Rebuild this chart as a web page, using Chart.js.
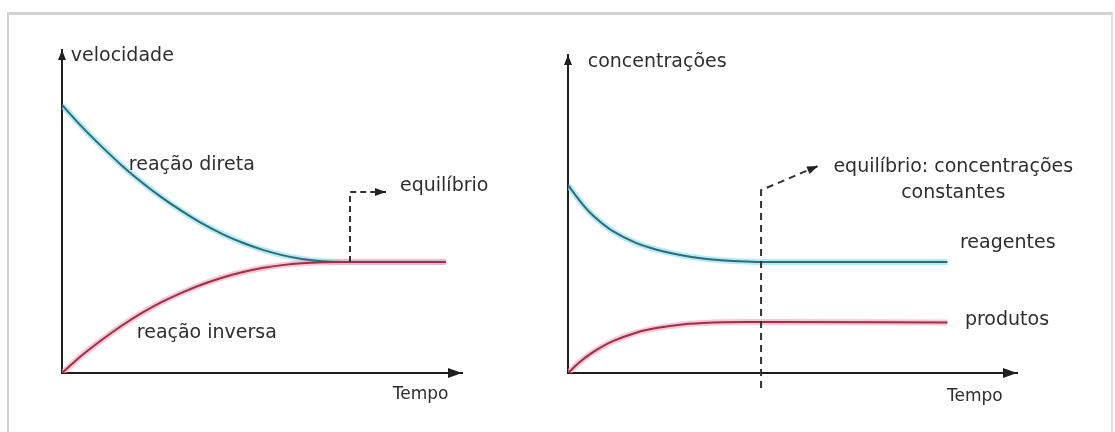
<!DOCTYPE html>
<html><head><meta charset="utf-8">
<script src="https://cdn.jsdelivr.net/npm/chart.js@4.4.1/dist/chart.umd.min.js"></script>
<style>
html,body{margin:0;padding:0;background:#fff;width:1115px;height:432px;overflow:hidden;}
#frame{position:absolute;left:7px;top:12px;width:1102px;height:440px;border-top:3px solid #d2d2d2;border-left:2px solid #d2d2d2;border-right:2px solid #e2e2e2;}
#c1{position:absolute;left:0;top:0;}
#c2{position:absolute;left:540px;top:0;}
</style></head><body>
<div id="frame"></div>
<canvas id="c1" width="560" height="432"></canvas>
<canvas id="c2" width="575" height="432"></canvas>
<script>
// ---- Left panel: velocidade x Tempo ----
const leftTime     = [0, 0.5, 1, 1.5, 2, 2.5, 3, 3.5, 4, 4.5, 5, 5.5, 6, 6.5, 7, 7.2, 9.6];
const leftDireta   = [83.0, 76.2, 70.0, 64.2, 59.0, 54.3, 50.1, 46.3, 43.1, 40.4, 38.2, 36.5, 35.3, 34.6, 34.4, 34.4, 34.4];
const leftInversa  = [0, 5.5, 10.3, 14.7, 18.6, 22.0, 24.9, 27.4, 29.5, 31.2, 32.5, 33.4, 34.0, 34.3, 34.4, 34.4, 34.4];
const leftEqX      = [7.2, 7.2, 8.1];
const leftEqY      = [34.4, 56.0, 56.0];

// ---- Right panel: concentrações x Tempo ----
const rightTime       = [0, 0.25, 0.5, 0.75, 1, 1.5, 2, 2.5, 3, 3.5, 4, 4.3, 8.45];
const rightReagentes  = [59.1, 54.4, 50.3, 47.2, 44.6, 41.0, 38.7, 37.1, 36.0, 35.4, 35.05, 34.9, 34.9];
const rightProdutos   = [0, 3.3, 6.0, 8.2, 10.0, 12.6, 14.2, 15.2, 15.7, 15.95, 16.0, 16.0, 15.9];
const rightEqX        = [4.3, 4.3, 5.57];
const rightEqY        = [-4.7, 57.5, 65.1];

// ---- Text labels ----
const leftLabels = [
  {text: 'velocidade', x: 0.22, y: 98.1},
  {text: 'reação direta', x: 1.67, y: 64.4},
  {text: 'equilíbrio', x: 8.45, y: 57.8},
  {text: 'reação inversa', x: 1.87, y: 12.4},
  {text: 'Tempo', x: 8.27, y: -6.8, size: 17}
];
const rightLabels = [
  {text: 'concentrações', x: 0.44, y: 97.8},
  {text: 'equilíbrio: concentrações', x: 8.58, y: 64.8, align: 'center'},
  {text: 'constantes', x: 8.58, y: 56.6, align: 'center'},
  {text: 'reagentes', x: 8.73, y: 40.9},
  {text: 'produtos', x: 8.84, y: 16.7},
  {text: 'Tempo', x: 8.44, y: -7.5, size: 17}
];

const pts = (xs, ys) => xs.map((x, i) => ({x: x, y: ys[i]}));

function tri(ctx, x, y, ux, uy, len, w) {
  const bx = x - ux * len, by = y - uy * len;
  const px = -uy, py = ux;
  ctx.beginPath();
  ctx.moveTo(x, y);
  ctx.lineTo(bx + px * w / 2, by + py * w / 2);
  ctx.lineTo(bx - px * w / 2, by - py * w / 2);
  ctx.closePath();
  ctx.fill();
}

const decorPlugin = {
  id: 'decor',
  afterDatasetsDraw(chart, args, opts) {
    const ctx = chart.ctx;
    const xs = chart.scales.x, ys = chart.scales.y;
    ctx.save();
    ctx.fillStyle = '#1f1f1f';
    const x0 = xs.getPixelForValue(xs.min);
    const yTop = ys.getPixelForValue(ys.max);
    tri(ctx, x0, yTop, 0, -1, 10, 8);
    const xEnd = xs.getPixelForValue(xs.max);
    const y0 = ys.getPixelForValue(0);
    tri(ctx, xEnd, y0, 1, 0, 14, 10);
    chart.data.datasets.forEach((ds, i) => {
      if (!ds.arrowEnd) return;
      const el = chart.getDatasetMeta(i).data;
      const a = el[el.length - 2], b = el[el.length - 1];
      const dx = b.x - a.x, dy = b.y - a.y, L = Math.hypot(dx, dy);
      ctx.fillStyle = '#222';
      tri(ctx, b.x, b.y, dx / L, dy / L, 11, 8);
    });
    ctx.fillStyle = '#2e2e2e';
    ctx.textBaseline = 'middle';
    (opts.labels || []).forEach(l => {
      ctx.font = (l.size || 19) + 'px "DejaVu Sans"';
      ctx.textAlign = l.align || 'left';
      ctx.fillText(l.text, xs.getPixelForValue(l.x), ys.getPixelForValue(l.y));
    });
    ctx.restore();
  }
};

function curveSets(blueData, redData, eqData, dash) {
  const common = {pointRadius: 0, cubicInterpolationMode: 'monotone', fill: false};
  return [
    Object.assign({label: 'halo azul', data: blueData, borderColor: 'rgba(140,225,242,0.65)', borderWidth: 6, order: 4}, common),
    Object.assign({label: 'halo vermelho', data: redData, borderColor: 'rgba(246,168,190,0.65)', borderWidth: 6, order: 3}, common),
    Object.assign({label: 'azul', data: blueData, borderColor: '#2f6c78', borderWidth: 2, order: 2}, common),
    Object.assign({label: 'vermelho', data: redData, borderColor: '#9b3049', borderWidth: 2, order: 1}, common),
    {label: 'equilíbrio', data: eqData, borderColor: '#333', borderWidth: 2, borderDash: dash,
     pointRadius: 0, tension: 0, fill: false, order: 0, clip: false, arrowEnd: true}
  ];
}

function makeChart(id, datasets, padding, labels) {
  return new Chart(document.getElementById(id), {
    type: 'line',
    data: {datasets: datasets},
    options: {
      responsive: false,
      animation: false,
      events: [],
      layout: {padding: padding},
      plugins: {legend: {display: false}, tooltip: {enabled: false}, decor: {labels: labels}},
      scales: {
        x: {type: 'linear', min: 0, max: 10,
            grid: {display: false, drawTicks: false},
            ticks: {display: false},
            border: {display: true, color: '#1f1f1f', width: 2}},
        y: {type: 'linear', min: 0, max: 100,
            grid: {display: false, drawTicks: false},
            ticks: {display: false},
            border: {display: true, color: '#1f1f1f', width: 2}}
      }
    },
    plugins: [decorPlugin]
  });
}

makeChart('c1',
  curveSets(pts(leftTime, leftDireta), pts(leftTime, leftInversa), pts(leftEqX, leftEqY), [6, 4]),
  {left: 62, top: 50, right: 98, bottom: 59}, leftLabels);

makeChart('c2',
  curveSets(pts(rightTime, rightReagentes), pts(rightTime, rightProdutos), pts(rightEqX, rightEqY), [7, 5]),
  {left: 28, top: 55, right: 98, bottom: 59}, rightLabels);
</script>
</body></html>
